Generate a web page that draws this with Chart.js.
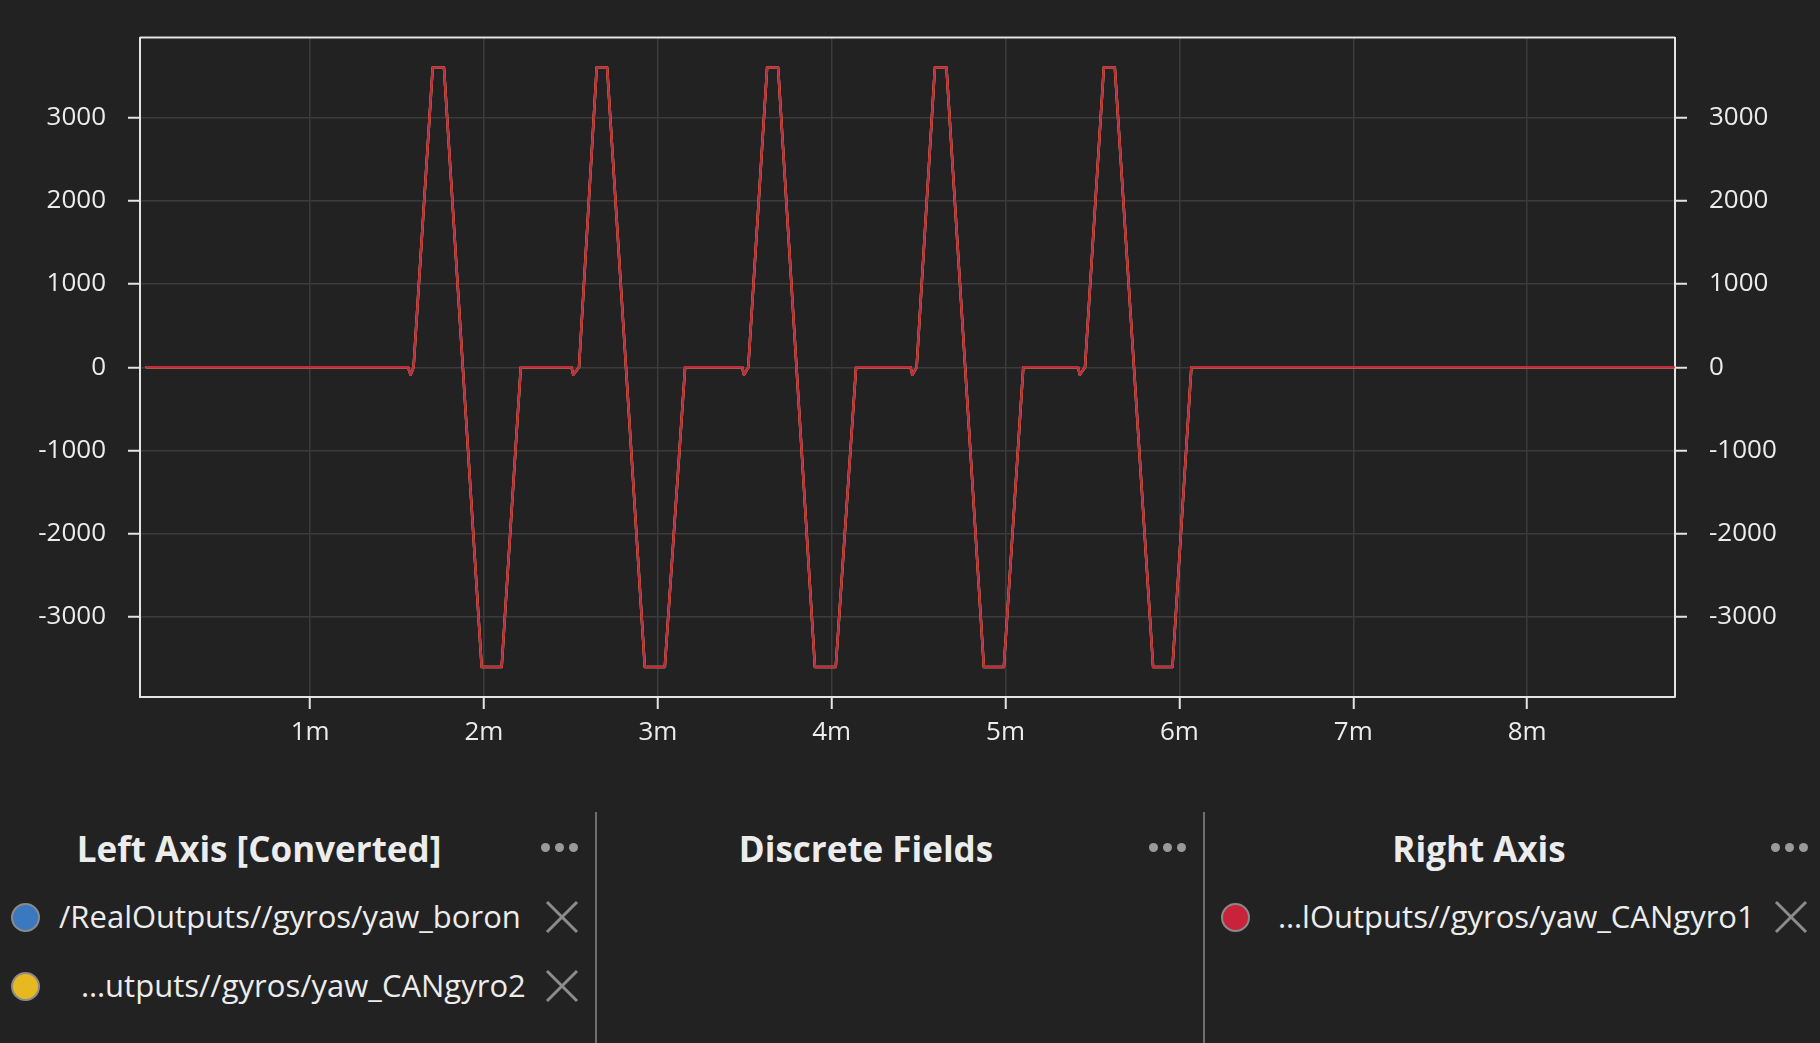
<!DOCTYPE html>
<html>
<head>
<meta charset="utf-8">
<script src="https://cdn.jsdelivr.net/npm/chart.js@4.4.1/dist/chart.umd.min.js"></script>
<style>
    html, body {
        margin: 0;
        padding: 0;
        background: #222222;
        width: 1820px;
        height: 1043px;
        overflow: hidden;
        font-family: "Open Sans", "Noto Sans", sans-serif;
        color: #ececec;
    }
    #plotWrap { position: absolute; left: 0; top: 0; width: 1820px; height: 770px; }
    .divider { position: absolute; top: 812px; width: 2px; height: 231px; background: #6e6e6e; }
    .title {
        position: absolute; width: 600px; text-align: center;
        font-weight: 700; font-size: 35px; line-height: 40px;
    }
    .dots { position: absolute; display: flex; gap: 5px; }
    .dots span { width: 9px; height: 9px; border-radius: 50%; background: #9a9a9a; }
    .item { position: absolute; font-size: 31px; line-height: 40px; white-space: nowrap; }
    .swatch {
        position: absolute; width: 25px; height: 25px; border-radius: 50%;
        border: 2px solid #8a8a8a;
    }
    .close { position: absolute; width: 34px; height: 34px; }
</style>
</head>
<body>
<div id="plotWrap"><canvas id="yawChart" width="1820" height="770"></canvas></div>

<div class="divider" style="left:595px"></div>
<div class="divider" style="left:1203px"></div>

<div id="legend"></div>

<script>
// time in seconds, yaw in degrees (all three gyros overlap on the plot)
const timeSec = [
    3.6, 93.8, 94.7, 95.7, 102.3, 106.2, 119.2, 126.1, 132.7,
    150.2, 150.8, 152.8, 158.9, 162.5, 175.5, 182.4, 189.4,
    209.1, 209.7, 211.2, 217.7, 221.5, 234.2, 241.4, 248.4,
    267.2, 267.8, 269.3, 275.6, 279.6, 292.5, 299.4, 306.1,
    325.0, 325.6, 327.4, 333.9, 337.7, 350.9, 357.6, 364.1,
    530.5
];
const yawDeg = [
    0, 0, -90, 0, 3600, 3600, -3600, -3600, 0,
    0, -90, 0, 3600, 3600, -3600, -3600, 0,
    0, -90, 0, 3600, 3600, -3600, -3600, 0,
    0, -90, 0, 3600, 3600, -3600, -3600, 0,
    0, -90, 0, 3600, 3600, -3600, -3600, 0,
    0
];
const yTicks = [-3000, -2000, -1000, 0, 1000, 2000, 3000];
const xTickMinutes = [1, 2, 3, 4, 5, 6, 7, 8];

const leftFields = ['/RealOutputs//gyros/yaw_boron', '\u2026utputs//gyros/yaw_CANgyro2'];
const rightFields = ['\u2026lOutputs//gyros/yaw_CANgyro1'];
const panelTitles = ['Left Axis [Converted]', 'Discrete Fields', 'Right Axis'];

const colors = {
    bg: '#222222',
    border: '#e4e4e4',
    grid: '#3b3b3b',
    text: '#ececec',
    blue: '#3a78c0',
    yellow: '#e8b820',
    red: '#c8233a',
    redLine: '#bf2c3d'
};

function points() {
    return timeSec.map((t, i) => ({ x: t, y: yawDeg[i] }));
}

// top edge of the plot box (scales only draw left, right and bottom)
const boxPlugin = {
    id: 'box',
    afterDraw(chart) {
        const a = chart.chartArea;
        const ctx = chart.ctx;
        ctx.save();
        ctx.strokeStyle = colors.border;
        ctx.lineWidth = 2;
        ctx.beginPath();
        ctx.moveTo(a.left, a.top);
        ctx.lineTo(a.right, a.top);
        ctx.stroke();
        ctx.restore();
    }
};

const tickFont = { family: '"Open Sans", "Noto Sans", sans-serif', size: 26 };

function yScale(position, width) {
    return {
        type: 'linear',
        position: position,
        min: -3960,
        max: 3960,
        afterFit(scale) { scale.width = width; },
        afterBuildTicks(scale) { scale.ticks = yTicks.map(v => ({ value: v })); },
        grid: {
            color: colors.grid,
            lineWidth: 1.5,
            drawOnChartArea: position === 'left',
            tickColor: colors.border,
            tickLength: 12,
            tickWidth: 2
        },
        border: { color: colors.border, width: 2 },
        ticks: { color: colors.text, font: tickFont, padding: 22, callback: v => String(v) }
    };
}

const ctx = document.getElementById('yawChart').getContext('2d');
const yawChart = new Chart(ctx, {
    type: 'line',
    data: {
        datasets: [
            { label: leftFields[0], data: points(), yAxisID: 'yLeft', borderColor: colors.blue, order: 2 },
            { label: leftFields[1], data: points(), yAxisID: 'yLeft', borderColor: colors.yellow, order: 1 },
            { label: rightFields[0], data: points(), yAxisID: 'yRight', borderColor: colors.redLine, order: 0 }
        ].map(d => Object.assign(d, {
            borderWidth: 2.5,
            pointRadius: 0,
            tension: 0,
            borderJoinStyle: 'round',
            borderCapStyle: 'round'
        }))
    },
    options: {
        responsive: false,
        animation: false,
        devicePixelRatio: 1,
        layout: { padding: { top: 35, left: 0, right: 0, bottom: 0 } },
        plugins: { legend: { display: false }, tooltip: { enabled: false } },
        scales: {
            x: {
                type: 'linear',
                min: 1.3,
                max: 531,
                afterFit(scale) { scale.height = 73; },
                afterBuildTicks(scale) { scale.ticks = xTickMinutes.map(m => ({ value: m * 60 })); },
                grid: {
                    color: colors.grid,
                    lineWidth: 1.5,
                    tickColor: colors.border,
                    tickLength: 12,
                    tickWidth: 2
                },
                border: { color: colors.border, width: 2 },
                ticks: {
                    color: colors.text,
                    font: tickFont,
                    padding: 8,
                    maxRotation: 0,
                    callback: v => (v / 60) + 'm'
                }
            },
            yLeft: yScale('left', 140),
            yRight: yScale('right', 145)
        }
    },
    plugins: [boxPlugin]
});

// legend panels below the plot
const legend = document.getElementById('legend');

function addTitle(text, centerX) {
    const el = document.createElement('div');
    el.className = 'title';
    el.style.left = (centerX - 300) + 'px';
    el.style.top = '829px';
    el.textContent = text;
    legend.appendChild(el);
}

function addDots(left) {
    const el = document.createElement('div');
    el.className = 'dots';
    el.style.left = left + 'px';
    el.style.top = '843px';
    el.innerHTML = '<span></span><span></span><span></span>';
    legend.appendChild(el);
}

function addItem(text, color, swatchX, textX, closeX, centerY) {
    const sw = document.createElement('div');
    sw.className = 'swatch';
    sw.style.background = color;
    sw.style.left = (swatchX - 14) + 'px';
    sw.style.top = (centerY - 14) + 'px';
    legend.appendChild(sw);

    const t = document.createElement('div');
    t.className = 'item';
    t.style.left = textX + 'px';
    t.style.top = (centerY - 21) + 'px';
    t.textContent = text;
    legend.appendChild(t);

    const x = document.createElementNS('http://www.w3.org/2000/svg', 'svg');
    x.setAttribute('class', 'close');
    x.setAttribute('viewBox', '0 0 34 34');
    x.style.left = (closeX - 17) + 'px';
    x.style.top = (centerY - 17) + 'px';
    x.innerHTML = '<path d="M2 2 L32 32 M32 2 L2 32" stroke="#8c8c8c" stroke-width="3" fill="none"/>';
    legend.appendChild(x);
}

addTitle(panelTitles[0], 259);
addTitle(panelTitles[1], 866);
addTitle(panelTitles[2], 1479);
addDots(541);
addDots(1149);
addDots(1771);

addItem(leftFields[0], colors.blue, 25, 59, 562, 917);
addItem(leftFields[1], colors.yellow, 25, 81, 562, 986);
addItem(rightFields[0], colors.red, 1235, 1278, 1791, 917);
</script>
</body>
</html>
